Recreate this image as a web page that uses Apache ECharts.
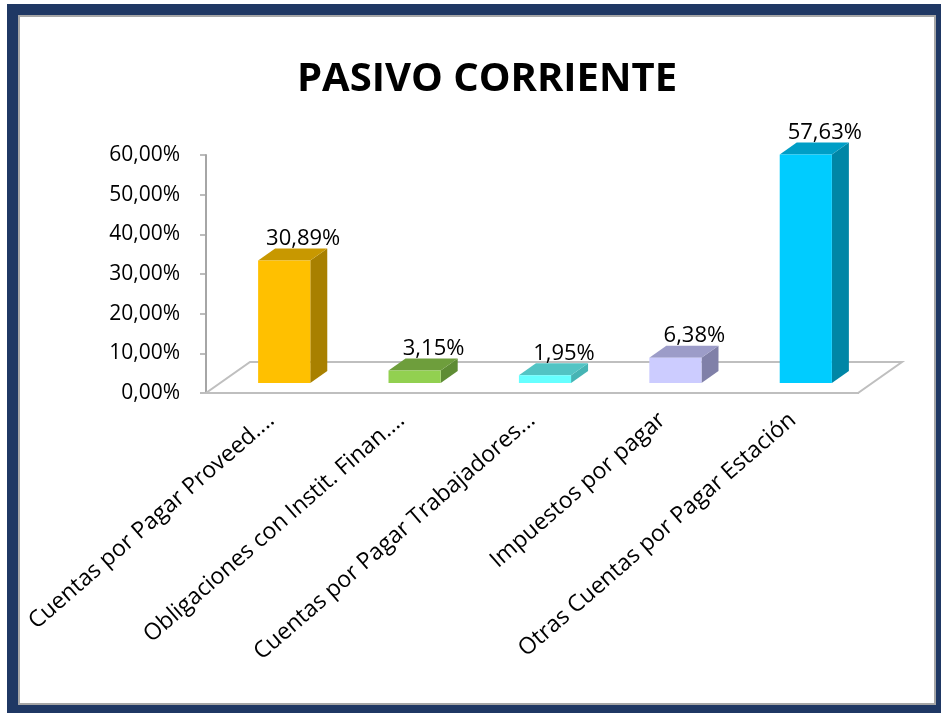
<!DOCTYPE html>
<html>
<head>
<meta charset="utf-8">
<script src="https://cdn.jsdelivr.net/npm/echarts@6/dist/echarts.min.js"></script>
<style>
  html, body { margin: 0; padding: 0; background: #fff; }
  .frame { position: absolute; left: 7px; top: 4px; width: 940px; height: 715px; background: #1F3864; }
  .inner { position: absolute; left: 18px; top: 15px; width: 918px; height: 690px; background: #fff;
           border: 2px solid #A6A6A6; box-sizing: border-box; }
  #chart { position: absolute; left: 0; top: 0; width: 941px; height: 713px; }
</style>
</head>
<body>
<div class="frame"></div>
<div class="inner"></div>
<div id="chart"></div>
<script>
var categories = [
  'Cuentas por Pagar Proveed....',
  'Obligaciones con Instit. Finan....',
  'Cuentas por Pagar Trabajadores...',
  'Impuestos por pagar',
  'Otras Cuentas por Pagar Estación'
]
var values = [30.89, 3.15, 1.95, 6.38, 57.63]
var yTicks = [0, 10, 20, 30, 40, 50, 60]

// front / side / top face colours of each bar
var frontColors = ['#FFC000', '#92D050', '#66FFFF', '#CCCCFF', '#00CCFF']
var sideColors = ['#A88000', '#5E8C34', '#46B4B4', '#8080A8', '#0086A6']
var topColors = ['#C89800', '#6E9E3C', '#52C4C4', '#9C9CC8', '#009EC6']

var FONT = 'Open Sans'
// fake 3d: floor depth, bar offset into the floor, bar depth
var FLOOR_DX = 44, FLOOR_DY = 31
var BAR_OX = 13, BAR_OY = 10
var BAR_DX = 17, BAR_DY = 12
var BAR_W = 0.4

function pct(v) {
  return v.toFixed(2).replace('.', ',') + '%'
}

function renderFloor(params, api) {
  var cs = params.coordSys
  var x0 = cs.x, x1 = cs.x + cs.width, y = cs.y + cs.height
  return {
    type: 'polygon',
    silent: true,
    shape: { points: [[x0, y], [x1, y], [x1 + FLOOR_DX, y - FLOOR_DY], [x0 + FLOOR_DX, y - FLOOR_DY]] },
    style: { fill: '#fff', stroke: '#BFBFBF', lineWidth: 2 }
  }
}

function renderBar(params, api) {
  var i = api.value(0)
  var v = api.value(1)
  var base = api.coord([i, 0])
  var top = api.coord([i, v])
  var w = api.size([1, 0])[0] * BAR_W
  var l = base[0] - w / 2 + BAR_OX
  var r = l + w
  var b = base[1] - BAR_OY
  var t = top[1] - BAR_OY
  return {
    type: 'group',
    children: [
      {
        type: 'polygon',
        shape: { points: [[r, b], [r, t], [r + BAR_DX, t - BAR_DY], [r + BAR_DX, b - BAR_DY]] },
        style: { fill: sideColors[i] }
      },
      {
        type: 'polygon',
        shape: { points: [[l, t], [r, t], [r + BAR_DX, t - BAR_DY], [l + BAR_DX, t - BAR_DY]] },
        style: { fill: topColors[i] }
      },
      {
        type: 'rect',
        shape: { x: l, y: t, width: w, height: b - t },
        style: { fill: frontColors[i] }
      },
      {
        type: 'text',
        style: {
          text: pct(v),
          x: (l + r) / 2 + 19,
          y: t - BAR_DY + 1,
          align: 'center',
          verticalAlign: 'bottom',
          fontFamily: FONT,
          fontSize: 22,
          fill: '#000'
        }
      }
    ]
  }
}

var chart = echarts.init(document.getElementById('chart'))
chart.setOption({
  animation: false,
  title: {
    text: 'PASIVO CORRIENTE',
    left: 292,
    top: 55,
    textStyle: { fontFamily: FONT, fontWeight: 'bold', fontSize: 40, color: '#000' }
  },
  grid: { left: 206, right: 83, top: 155, bottom: 320 },
  xAxis: {
    type: 'category',
    data: categories,
    axisLine: { lineStyle: { color: '#A6A6A6', width: 2 } },
    axisTick: { length: 7, lineStyle: { color: '#A6A6A6', width: 1.5 } },
    axisLabel: { interval: 0, rotate: 41, margin: 24, fontFamily: FONT, fontSize: 23, color: '#000' }
  },
  yAxis: {
    type: 'value',
    min: yTicks[0],
    max: yTicks[yTicks.length - 1],
    interval: yTicks[1] - yTicks[0],
    axisLine: { show: true, lineStyle: { color: '#A6A6A6', width: 2 } },
    axisTick: { show: true, length: 6, lineStyle: { color: '#A6A6A6', width: 1.5 } },
    splitLine: { show: false },
    axisLabel: { formatter: pct, margin: 26, fontFamily: FONT, fontSize: 21, color: '#000' }
  },
  series: [
    { type: 'custom', renderItem: renderFloor, data: [0], z: 1, silent: true },
    {
      type: 'custom',
      renderItem: renderBar,
      data: values.map(function (v, i) { return [i, v] }),
      encode: { x: 0, y: 1 },
      z: 2
    }
  ]
})
</script>
</body>
</html>
